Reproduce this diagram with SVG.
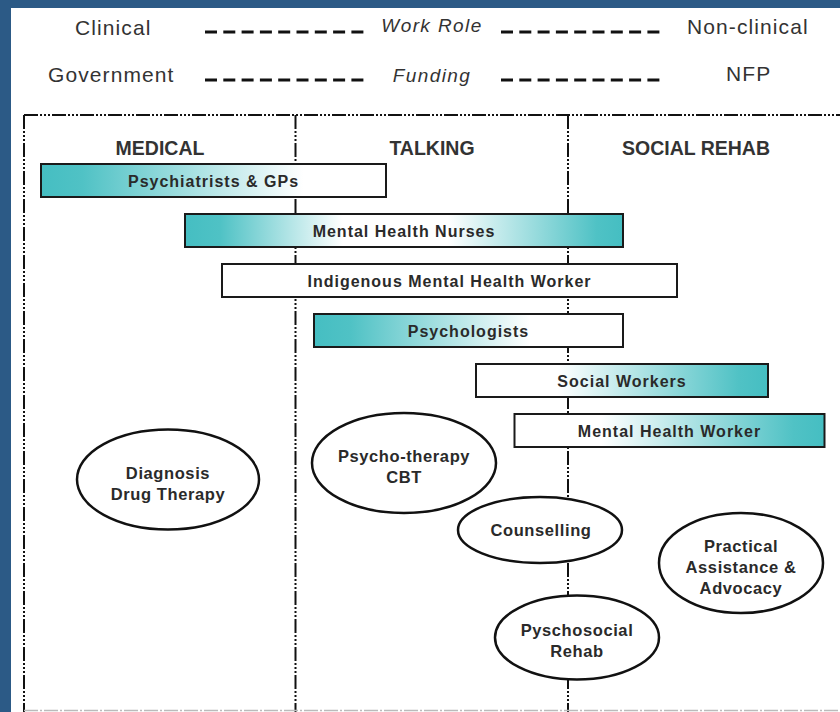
<svg xmlns="http://www.w3.org/2000/svg" width="840" height="712" viewBox="0 0 840 712">
<defs>
<linearGradient id="gL" x1="0" y1="0" x2="1" y2="0">
<stop offset="0" stop-color="#45bec2"/><stop offset="0.12" stop-color="#50c2c5"/><stop offset="0.76" stop-color="#ffffff"/><stop offset="1" stop-color="#ffffff"/>
</linearGradient>
<linearGradient id="gLP" x1="0" y1="0" x2="1" y2="0">
<stop offset="0" stop-color="#45bec2"/><stop offset="0.12" stop-color="#50c2c5"/><stop offset="0.7" stop-color="#ffffff"/><stop offset="1" stop-color="#ffffff"/>
</linearGradient>
<linearGradient id="gB" x1="0" y1="0" x2="1" y2="0">
<stop offset="0" stop-color="#45bec2"/><stop offset="0.08" stop-color="#4fc2c5"/><stop offset="0.36" stop-color="#ffffff"/><stop offset="0.6" stop-color="#ffffff"/><stop offset="0.94" stop-color="#4fc2c5"/><stop offset="1" stop-color="#45bec2"/>
</linearGradient>
<linearGradient id="gR" x1="0" y1="0" x2="1" y2="0">
<stop offset="0" stop-color="#ffffff"/><stop offset="0.28" stop-color="#ffffff"/><stop offset="0.9" stop-color="#50c2c5"/><stop offset="1" stop-color="#45bec2"/>
</linearGradient>
<style>
.leg{font-family:"Liberation Sans",Arial,sans-serif;font-size:21px;fill:#333;letter-spacing:1.1px}
.legi{font-family:"Liberation Sans",Arial,sans-serif;font-size:19px;font-style:italic;fill:#333;letter-spacing:1.4px;text-anchor:middle}
.dash{stroke:#111;stroke-width:3;stroke-dasharray:12 6.3;fill:none}
.frame{stroke:#111;stroke-width:2;fill:none;stroke-dasharray:14 2 2 2 2 2 2 2}
.col{font-family:"Liberation Sans",Arial,sans-serif;font-size:19.5px;font-weight:bold;fill:#333;text-anchor:middle}
.bar{stroke:#1a1a1a;stroke-width:2}
.bt{font-family:"Liberation Sans",Arial,sans-serif;font-size:16px;font-weight:bold;fill:#2a2a2a;letter-spacing:1px;text-anchor:middle}
.ell{fill:#fff;stroke:#111;stroke-width:2.5}
.et{font-family:"Liberation Sans",Arial,sans-serif;font-size:16.5px;font-weight:bold;fill:#2a2a2a;letter-spacing:0.6px;text-anchor:middle}
</style>
</defs>
<rect x="0" y="0" width="840" height="712" fill="#fff"/>
<rect x="0" y="0" width="840" height="8" fill="#2c5a86"/>
<rect x="0" y="0" width="11" height="712" fill="#2c5a86"/>

<g id="legend">
<text class="leg" x="75" y="35">Clinical</text>
<text class="legi" x="432" y="32">Work Role</text>
<text class="leg" x="687" y="34">Non-clinical</text>
<text class="leg" x="48" y="82">Government</text>
<text class="legi" x="432" y="82">Funding</text>
<text class="leg" x="726" y="81">NFP</text>
<line class="dash" x1="205" y1="32" x2="364" y2="32"/>
<line class="dash" x1="501" y1="32" x2="660" y2="32"/>
<line class="dash" x1="205" y1="80" x2="364" y2="80"/>
<line class="dash" x1="501" y1="80" x2="660" y2="80"/>
</g>

<g id="connectors">
<line class="frame" x1="24" y1="115" x2="840" y2="115"/>
<line class="frame" x1="24" y1="115" x2="24" y2="712"/>
<line class="frame" x1="295.5" y1="115" x2="295.5" y2="712"/>
<line class="frame" x1="568" y1="115" x2="568" y2="712"/>
<line x1="24" y1="710.5" x2="840" y2="710.5" stroke="#bbb" stroke-width="1.5" stroke-dasharray="14 2 2 2"/>
</g>

<g id="col-medical"><text class="col" x="160" y="155">MEDICAL</text></g>
<g id="col-talking"><text class="col" x="432" y="155">TALKING</text></g>
<g id="col-social"><text class="col" x="696" y="155">SOCIAL REHAB</text></g>

<g id="psychiatrists">
<rect class="bar" x="41" y="164" width="345" height="33" fill="url(#gL)"/>
<text class="bt" x="213.5" y="187">Psychiatrists &amp; GPs</text>
</g>
<g id="nurses">
<rect class="bar" x="185" y="214" width="438" height="33" fill="url(#gB)"/>
<text class="bt" x="404" y="237">Mental Health Nurses</text>
</g>
<g id="indigenous">
<rect class="bar" x="222" y="264" width="455" height="33" fill="#fff"/>
<text class="bt" x="449.5" y="287">Indigenous Mental Health Worker</text>
</g>
<g id="psychologists">
<rect class="bar" x="314" y="314" width="309" height="33" fill="url(#gLP)"/>
<text class="bt" x="468.5" y="337">Psychologists</text>
</g>
<g id="social-workers">
<rect class="bar" x="476" y="364" width="292" height="33" fill="url(#gR)"/>
<text class="bt" x="622" y="387">Social Workers</text>
</g>
<g id="mh-worker">
<rect class="bar" x="514.5" y="414" width="310" height="33" fill="url(#gR)"/>
<text class="bt" x="669.5" y="437">Mental Health Worker</text>
</g>

<g id="diagnosis">
<ellipse class="ell" cx="168" cy="479.5" rx="91" ry="50"/>
<text class="et" x="168" y="479">Diagnosis</text>
<text class="et" x="168" y="500">Drug Therapy</text>
</g>
<g id="psychotherapy">
<ellipse class="ell" cx="404" cy="463" rx="92" ry="50"/>
<text class="et" x="404" y="462">Psycho-therapy</text>
<text class="et" x="404" y="483">CBT</text>
</g>
<g id="counselling">
<ellipse class="ell" cx="540" cy="530" rx="82" ry="33"/>
<text class="et" x="541" y="536">Counselling</text>
</g>
<g id="practical">
<ellipse class="ell" cx="741" cy="563" rx="82" ry="50"/>
<text class="et" x="741" y="552">Practical</text>
<text class="et" x="741" y="573">Assistance &amp;</text>
<text class="et" x="741" y="594">Advocacy</text>
</g>
<g id="psychosocial">
<ellipse class="ell" cx="577" cy="637.5" rx="82" ry="42"/>
<text class="et" x="577" y="636">Pyschosocial</text>
<text class="et" x="577" y="657">Rehab</text>
</g>
</svg>
